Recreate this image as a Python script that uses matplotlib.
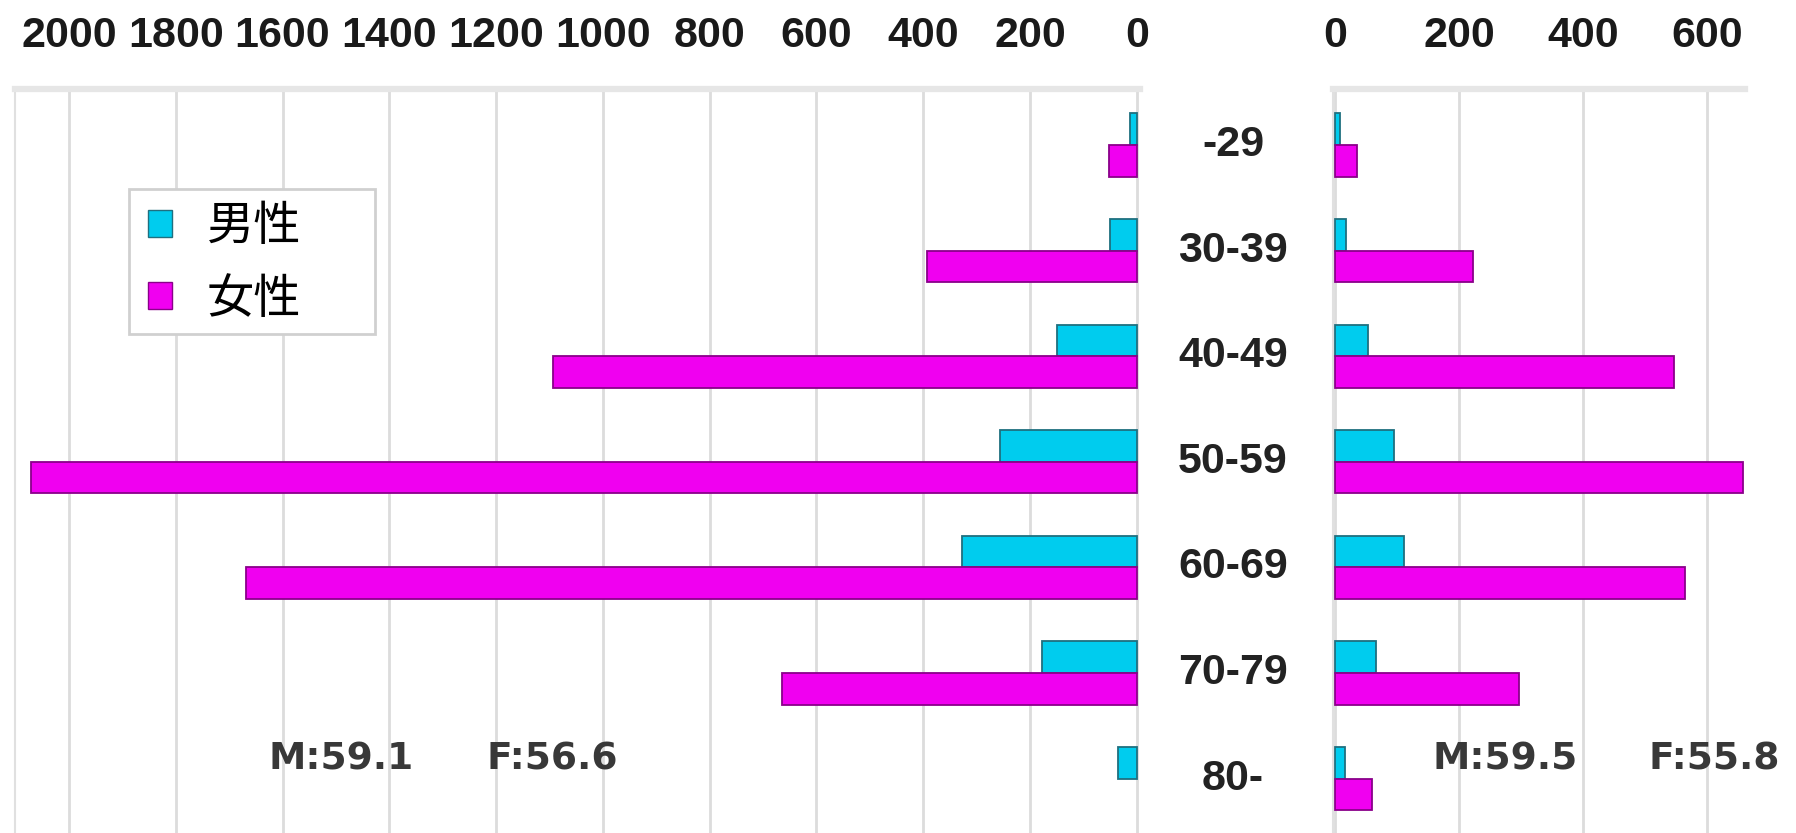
import matplotlib.pyplot as plt
from matplotlib.patches import Patch, Rectangle
import numpy as np

ages = ["-29", "30-39", "40-49", "50-59", "60-69", "70-79", "80-"]

# left panel
left_male = [12, 50, 150, 257, 327, 177, 35]
left_female = [52, 392, 1093, 2071, 1668, 665, 0]
left_ticks = [0, 200, 400, 600, 800, 1000, 1200, 1400, 1600, 1800, 2000]

# right panel
right_male = [9, 18, 54, 95, 111, 67, 16]
right_female = [36, 222, 546, 657, 565, 296, 60]
right_ticks = [0, 200, 400, 600]

notes = ["M:59.1", "F:56.6", "M:59.5", "F:55.8"]
legend_labels = ["男性", "女性"]

cyan = "#00CCEE"
cyan_edge = "#1f6f7f"
mag = "#F000F0"
mag_edge = "#8a008a"

W, H = 1796, 833
fig = plt.figure(figsize=(W / 100, H / 100), dpi=100)

axL = fig.add_axes([15 / W, 0, (1140 - 15) / W, 1 - 89 / H])
axR = fig.add_axes([1333 / W, 0, (1745 - 1333) / W, 1 - 89 / H])

y = np.arange(len(ages))
h = 0.3


def bars(ax, yy, vals, color, edge):
    vals = np.asarray(vals)
    keep = vals > 0
    ax.barh(yy[keep], vals[keep], height=h, color=color, edgecolor=edge, linewidth=1.3)


def style(ax, ticks, lim):
    ax.set_xlim(*lim)
    ax.set_ylim(6.515, -0.53)
    ax.xaxis.tick_top()
    ax.set_xticks(ticks)
    ax.set_xticklabels([str(t) for t in ticks], fontsize=31, fontweight="bold",
                       family="Liberation Sans", color="#1a1a1a")
    ax.tick_params(axis="x", length=0, pad=24)
    ax.set_yticks([])
    ax.grid(axis="x", color="#dcdcdc", linewidth=2)
    ax.set_axisbelow(True)
    for s in ["right", "bottom"]:
        ax.spines[s].set_visible(False)
    ax.spines["left"].set_color("#e0e0e0")
    ax.spines["left"].set_linewidth(1.5)
    ax.spines["top"].set_color("#e6e6e6")
    ax.spines["top"].set_linewidth(4.5)


for ax, m, f, ticks, lim in [(axL, left_male, left_female, left_ticks, (2101, -6)),
                             (axR, right_male, right_female, right_ticks, (-3, 661))]:
    bars(ax, y - h / 2, m, cyan, cyan_edge)
    bars(ax, y + h / 2, f, mag, mag_edge)
    style(ax, ticks, lim)

# age labels between the panels
for i, a in enumerate(ages):
    yy = 1 - (145 + i * 105.6) / H
    fig.text(1233 / W, yy, a, ha="center", va="center", fontsize=31,
             fontweight="bold", family="Liberation Sans", color="#222222")

# mean ages
for txt, x in zip(notes, [269, 487, 1432, 1649]):
    fig.text(x / W, 1 - 760 / H, txt, ha="left", va="center", fontsize=27,
             fontweight="bold", family="DejaVu Sans", color="#383838")

# legend
fig.patches.append(Rectangle((129 / W, 1 - 334 / H), 246 / W, 145 / H,
                             transform=fig.transFigure, facecolor="white",
                             edgecolor="#d0d0d0", linewidth=2, zorder=5))
handles = [Patch(facecolor=cyan, edgecolor=cyan_edge),
           Patch(facecolor=mag, edgecolor=mag_edge)]
leg = fig.legend(handles, legend_labels, loc="upper left",
                 bbox_to_anchor=(148 / W, 1 - 203 / H),
                 prop={"family": ["Noto Sans CJK JP", "DejaVu Sans"], "size": 34},
                 handlelength=0.5, handleheight=0.5, labelspacing=0.5,
                 handletextpad=0.75, borderpad=0, borderaxespad=0,
                 frameon=False)
leg.set_zorder(6)

fig.savefig("out.png", dpi=100)
